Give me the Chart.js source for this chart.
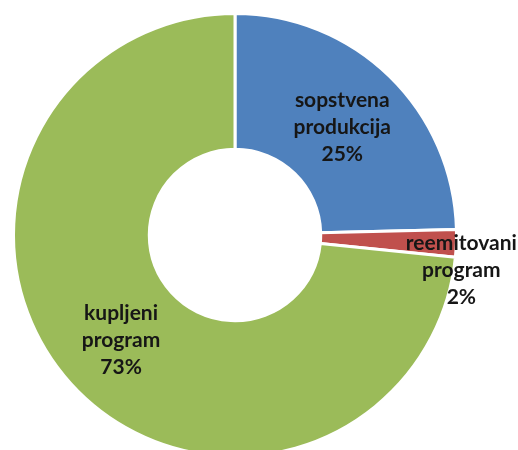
<!DOCTYPE html>
<html>
<head>
<meta charset="utf-8">
<script src="https://cdn.jsdelivr.net/npm/chart.js@4.4.1/dist/chart.umd.min.js"></script>
<style>
  html, body { margin: 0; padding: 0; background: #fff; overflow: hidden; }
  #wrap { width: 518px; height: 450px; overflow: hidden; }
</style>
</head>
<body>
<div id="wrap"><canvas id="chart" width="518" height="464"></canvas></div>
<script>
// Data
const categories = ['sopstvena produkcija', 'reemitovani program', 'kupljeni program'];
const labelLines = [['sopstvena', 'produkcija'], ['reemitovani', 'program'], ['kupljeni', 'program']];
const shares = [24.6, 2.0, 73.4];
const percentLabels = ['25%', '2%', '73%'];
const sliceColors = ['#4F81BD', '#C0504D', '#9BBB59'];

// Slice labels, drawn on each arc (the small red slice gets its label outside)
const sliceLabels = {
  id: 'sliceLabels',
  afterDatasetsDraw(chart) {
    const ctx = chart.ctx;
    const arcs = chart.getDatasetMeta(0).data;
    ctx.save();
    ctx.font = 'bold 21px Lato';
    ctx.fillStyle = '#161616';
    ctx.textAlign = 'center';
    ctx.textBaseline = 'middle';
    const lh = 27;
    arcs.forEach((arc, i) => {
      const p = arc.getProps(['x', 'y', 'startAngle', 'endAngle', 'innerRadius', 'outerRadius'], true);
      const mid = (p.startAngle + p.endAngle) / 2;
      const lines = labelLines[i].concat([percentLabels[i]]);
      let cx, cy;
      if (i === 1) {
        const r = p.outerRadius + 5;
        cx = p.x + Math.cos(mid) * r;
        cy = p.y + Math.sin(mid) * r;
      } else {
        const r = (p.innerRadius + p.outerRadius) / 2;
        cx = p.x + Math.cos(mid) * r;
        cy = p.y + Math.sin(mid) * r - lh * (lines.length - 1) / 2 + 2;
      }
      lines.forEach((t, k) => ctx.fillText(t, cx, cy + k * lh));
    });
    ctx.restore();
  }
};

new Chart(document.getElementById('chart'), {
  type: 'doughnut',
  data: {
    labels: categories,
    datasets: [{
      data: shares,
      backgroundColor: sliceColors,
      borderColor: '#ffffff',
      borderWidth: 3,
      hoverBorderWidth: 3
    }]
  },
  options: {
    responsive: false,
    animation: false,
    cutout: '38.7%',
    layout: { padding: { left: 12, right: 60, top: 12, bottom: 6 } },
    plugins: {
      legend: { display: false },
      tooltip: { enabled: false }
    }
  },
  plugins: [sliceLabels]
});
</script>
</body>
</html>
